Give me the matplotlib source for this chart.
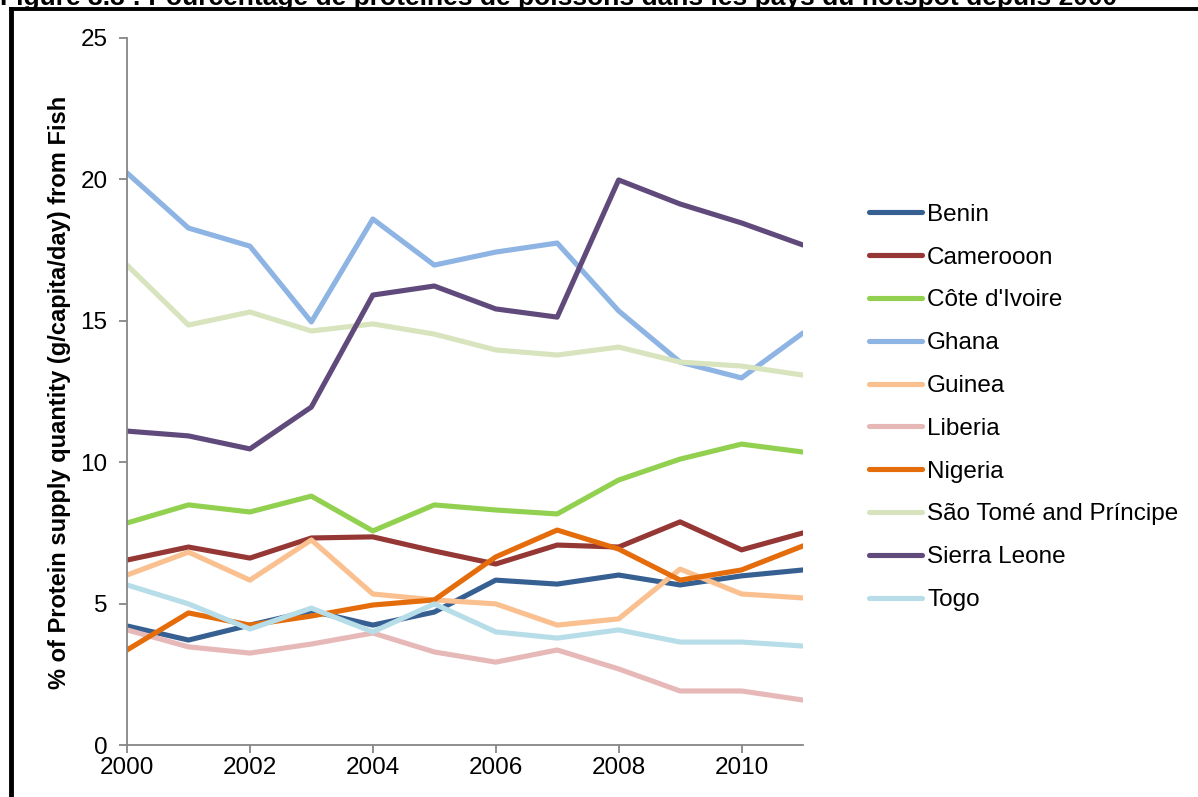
import matplotlib
matplotlib.use('Agg')
import matplotlib.pyplot as plt
from matplotlib.lines import Line2D

plt.rcParams['font.family'] = ['Liberation Sans', 'DejaVu Sans']

# donnees
annees = list(range(2000, 2012))
pays = ['Benin', 'Camerooon', "Côte d'Ivoire", 'Ghana', 'Guinea', 'Liberia',
        'Nigeria', 'São Tomé and Príncipe', 'Sierra Leone', 'Togo']

benin = [4.21, 3.71, 4.24, 4.74, 4.24, 4.70, 5.83, 5.69, 6.01, 5.66, 5.98, 6.19]
cameroun = [6.54, 7.00, 6.61, 7.32, 7.36, 6.86, 6.40, 7.07, 7.00, 7.89, 6.90, 7.50]
cote_ivoire = [7.85, 8.49, 8.24, 8.80, 7.57, 8.49, 8.31, 8.17, 9.37, 10.11, 10.64, 10.36]
ghana = [20.23, 18.28, 17.64, 14.96, 18.60, 16.97, 17.43, 17.75, 15.35, 13.54, 12.98, 14.57]
guinee = [6.01, 6.82, 5.83, 7.25, 5.34, 5.13, 4.99, 4.24, 4.46, 6.22, 5.34, 5.20]
liberia = [4.07, 3.47, 3.25, 3.57, 3.96, 3.29, 2.93, 3.36, 2.69, 1.91, 1.91, 1.59]
nigeria = [3.36, 4.67, 4.24, 4.56, 4.95, 5.13, 6.65, 7.60, 6.93, 5.83, 6.19, 7.04]
sao_tome = [16.97, 14.85, 15.31, 14.64, 14.89, 14.53, 13.97, 13.79, 14.07, 13.54, 13.40, 13.08]
sierra_leone = [11.10, 10.93, 10.47, 11.95, 15.91, 16.23, 15.42, 15.13, 19.98, 19.13, 18.46, 17.68]
togo = [5.66, 4.99, 4.10, 4.84, 4.00, 4.99, 4.00, 3.78, 4.07, 3.64, 3.64, 3.50]

series = [benin, cameroun, cote_ivoire, ghana, guinee, liberia,
          nigeria, sao_tome, sierra_leone, togo]
warna = ['#376092', '#953735', '#92D050', '#8EB4E3', '#FAC090', '#E6B9B8',
         '#E46C0A', '#D7E4BD', '#604A7B', '#B7DEE8']

fig = plt.figure(figsize=(11.98, 7.97), dpi=100)
ax = fig.add_axes([127/1198, 1 - 745/797, (803 - 127)/1198, (745 - 38)/797])

for nama, nilai, c in zip(pays, series, warna):
    ax.plot(annees, nilai, color=c, linewidth=3.7, label=nama,
            solid_capstyle='round', solid_joinstyle='round')

ax.set_xlim(2000, 2011)
ax.set_ylim(0, 25)
ax.set_xticks([2000, 2002, 2004, 2006, 2008, 2010])
ax.set_yticks([0, 5, 10, 15, 20, 25])
ax.tick_params(axis='both', colors='#868686', labelcolor='black', labelsize=17.5,
               length=6, width=1.3, direction='out')
ax.tick_params(axis='x', pad=3)
ax.tick_params(axis='y', pad=8)
for s in ['top', 'right']:
    ax.spines[s].set_visible(False)
for s in ['left', 'bottom']:
    ax.spines[s].set_color('#868686')
    ax.spines[s].set_linewidth(1.3)

fig.text(60/1198, 1 - 392/797, '% of Protein supply quantity (g/capita/day) from Fish',
         rotation=90, fontsize=17, fontweight='bold', ha='center', va='center')

leg = fig.legend(loc='upper left', bbox_to_anchor=(847/1198, 1 - 182/797),
                 frameon=False, fontsize=17.5, handlelength=2.2, handletextpad=0.2,
                 labelspacing=0.855)

# bingkai gambar dan judul terpotong
fig.add_artist(Line2D([11/1198, 11/1198], [0, 1 - 9/797], color='black', linewidth=3.5))
fig.add_artist(Line2D([11/1198, 1], [1 - 9/797, 1 - 9/797], color='black', linewidth=2.8))
fig.text(0, 1 - 5/797, 'Figure 3.3 : Pourcentage de protéines de poissons dans les pays du hotspot depuis 2000',
         fontsize=19, fontweight='bold', ha='left', va='baseline')

fig.savefig('out.png', dpi=100)
